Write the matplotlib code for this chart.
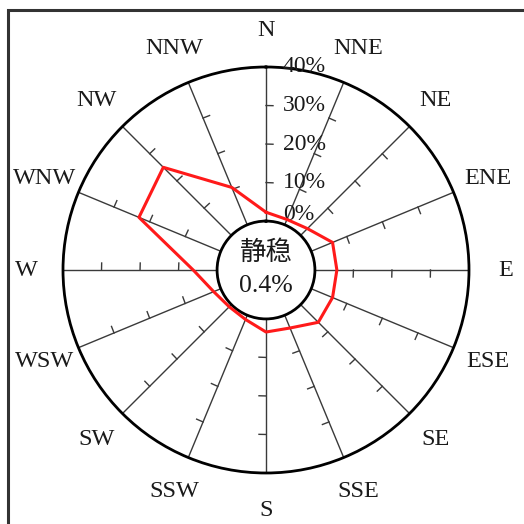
import matplotlib
matplotlib.use("Agg")
import matplotlib.pyplot as plt
import numpy as np
from matplotlib.patches import Rectangle

# 16 wind directions, clockwise from north
directions = ["N", "NNE", "NE", "ENE", "E", "ESE", "SE", "SSE",
              "S", "SSW", "SW", "WSW", "W", "WNW", "NW", "NNW"]
freq = [2.3, 1.5, 2.5, 6.0, 5.7, 6.0, 6.5, 3.6,
        3.4, 1.2, 0.8, 2.0, 6.2, 23.0, 25.0, 10.5]  # %
r_ticks = [0, 10, 20, 30, 40]
r_labels = ["0%", "10%", "20%", "30%", "40%"]
calm_text = ["静稳", "0.4%"]

W, H, DPI = 524, 524, 100
rmax = 40
rorigin = -12.7          # hole in the middle for the calm circle
ax_px = 406              # axes diameter in pixels
px_per_unit = (ax_px / 2) / (rmax - rorigin)

fig = plt.figure(figsize=(W / DPI, H / DPI), dpi=DPI)
fig.patch.set_facecolor("white")

# frame (only left and top edges show)
fig.add_artist(Rectangle((8 / W, -0.2), 1.5, 1.2 - 10 / H, transform=fig.transFigure,
                         fill=False, lw=2.2, ec="#333333", clip_on=False))

left = (266 - ax_px / 2) / W
bottom = (H - 270 - ax_px / 2) / H
ax = fig.add_axes([left, bottom, ax_px / W, ax_px / H], projection="polar")
ax.set_theta_zero_location("N")
ax.set_theta_direction(-1)
ax.set_rlim(0, rmax)
ax.set_rorigin(rorigin)

theta = np.radians(np.arange(16) * 22.5)
ax.set_xticks(theta)
ax.set_xticklabels([])
ax.set_yticks([])
ax.xaxis.grid(True, color="#3a3a3a", lw=1.0)
ax.yaxis.grid(False)
for sp in ax.spines.values():
    sp.set_linewidth(2.0)
    sp.set_color("black")

# small tick marks on the clockwise side of each spoke
tick_len = 7
for t in theta:
    for r in r_ticks[1:-1]:
        dth = tick_len / ((r - rorigin) * px_per_unit)
        ax.plot([t, t + dth], [r, r], color="#3a3a3a", lw=1.0, clip_on=False)

# percentage labels along north spoke (0% lifted off the circle)
for r, lab in zip(r_ticks, r_labels):
    dy = 5 if r == 0 else 0
    ax.annotate(lab, xy=(0, r), xytext=(12, dy), textcoords="offset points",
                ha="left", va="center", fontsize=17, family="Liberation Serif",
                color="#1a1a1a", annotation_clip=False)

# direction labels
lab_r = rmax + 37 / px_per_unit
for t, d in zip(theta, directions):
    ax.text(t, lab_r, d, ha="center", va="center", fontsize=17.5,
            family="Liberation Serif", color="#1a1a1a", clip_on=False)

# frequency polygon
th = np.append(theta, theta[0])
fr = np.append(freq, freq[0])
ax.plot(th, fr, color="#ff1a1a", lw=2.2, zorder=5, clip_on=False)

# calm in centre
ax.text(0.5, 0.5 + 17 / ax_px, calm_text[0], transform=ax.transAxes, ha="center", va="center",
        fontsize=19, family=["Liberation Serif", "Noto Sans CJK SC"], color="#1a1a1a")
ax.text(0.5, 0.5 - 16 / ax_px, calm_text[1], transform=ax.transAxes, ha="center", va="center",
        fontsize=18.5, family="Liberation Serif", color="#1a1a1a")

fig.savefig("out.png", dpi=DPI, facecolor="white")
